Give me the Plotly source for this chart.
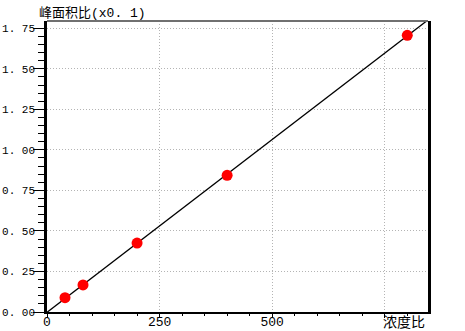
import numpy as np
import plotly.graph_objects as go

# Calibration data: concentration ratio vs peak area ratio (x0.1)
conc_ratio = [40, 80, 200, 400, 800]
area_ratio = [0.088, 0.167, 0.425, 0.843, 1.707]

x_tick_vals = [0, 250, 500, 750]
x_tick_text = ["0", "250", "500", ""]
y_tick_vals = [0.0, 0.25, 0.5, 0.75, 1.0, 1.25, 1.5, 1.75]
y_tick_text = ["0. 00", "0. 25", "0. 50", "0. 75", "1. 00", "1. 25", "1. 50", "1. 75"]

X_MAX = 846
Y_MAX = 1.795

# least-squares calibration line
slope, intercept = np.polyfit(conc_ratio, area_ratio, 1)
fit_x = np.linspace(0, X_MAX, 200)
fit_y = slope * fit_x + intercept

mono = "Liberation Mono, Noto Sans CJK SC, monospace"
cjk = "Noto Sans CJK SC, sans-serif"
grid_dash = "1px,2px"

fig = go.Figure()
fig.add_trace(go.Scatter(
    x=fit_x, y=fit_y, mode="lines",
    line=dict(color="black", width=1.3),
    hoverinfo="skip", showlegend=False,
))
fig.add_trace(go.Scatter(
    x=conc_ratio, y=area_ratio, mode="markers",
    marker=dict(color="#ff0000", size=11, line=dict(width=0)),
    showlegend=False,
))

fig.update_layout(
    width=465, height=331,
    margin=dict(l=47, r=37, t=21, b=19, autoexpand=False),
    paper_bgcolor="white", plot_bgcolor="white",
    font=dict(family=mono, color="black"),
)

fig.update_xaxes(
    range=[0, X_MAX], automargin=False,
    tickmode="array", tickvals=x_tick_vals, ticktext=x_tick_text,
    tickfont=dict(family=mono, size=13, color="black"),
    ticks="outside", ticklen=4, tickwidth=1, tickcolor="black",
    ticklabelstandoff=-8,
    minor=dict(dtick=50, tick0=0, ticks="outside", ticklen=2,
               tickwidth=1, tickcolor="black", showgrid=False),
    showline=True, linewidth=2, linecolor="black", mirror=False,
    showgrid=True, gridcolor="#b4b4b4", griddash=grid_dash, gridwidth=1,
    zeroline=False,
)
fig.update_yaxes(
    range=[0, Y_MAX], automargin=False,
    tickmode="array", tickvals=y_tick_vals, ticktext=y_tick_text,
    tickfont=dict(family=mono, size=11, color="black"),
    ticks="outside", ticklen=11, tickwidth=1, tickcolor="black",
    ticklabelstandoff=-4,
    minor=dict(dtick=0.05, tick0=0, ticks="outside", ticklen=6,
               tickwidth=1, tickcolor="black", showgrid=False),
    showline=True, linewidth=2.5, linecolor="black", mirror=True,
    showgrid=True, gridcolor="#b4b4b4", griddash=grid_dash, gridwidth=1,
    zeroline=False,
)

# grey top border of the plotting frame
fig.add_shape(type="line", xref="paper", yref="paper",
              x0=0, x1=1, y0=1, y1=1,
              line=dict(color="#707070", width=2))

# axis titles
fig.add_annotation(
    text="峰面积比(x0. 1)", xref="paper", yref="paper",
    x=-0.026, y=1, xanchor="left", yanchor="bottom", yshift=-2,
    showarrow=False, font=dict(family=mono, size=13, color="black"),
)
fig.add_annotation(
    text="浓度比", xref="x", yref="paper",
    x=793, y=0, xanchor="center", yanchor="middle", yshift=-9,
    showarrow=False, font=dict(family=cjk, size=14, color="black"),
)

fig.write_html("out.html")
